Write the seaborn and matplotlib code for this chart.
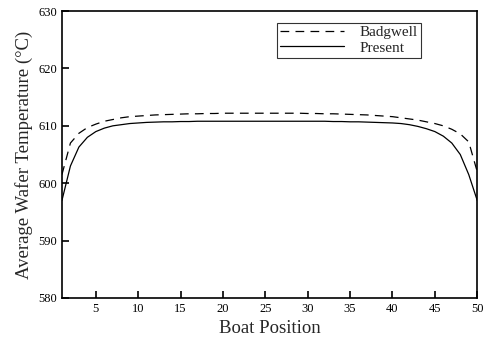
import numpy as np
import pandas as pd
import matplotlib
matplotlib.use("Agg")
import matplotlib.pyplot as plt
import seaborn as sns
from matplotlib.lines import Line2D

positions = list(range(1, 51))
badgwell = [601.5, 607.0, 608.7, 609.7, 610.3, 610.8, 611.1, 611.4, 611.6, 611.7,
            611.8, 611.9, 611.95, 612.0, 612.05, 612.1, 612.1, 612.15, 612.15, 612.2,
            612.2, 612.2, 612.2, 612.2, 612.2, 612.2, 612.2, 612.2, 612.2, 612.15,
            612.15, 612.1, 612.1, 612.05, 612.0, 611.95, 611.9, 611.8, 611.7, 611.6,
            611.4, 611.2, 611.0, 610.7, 610.4, 610.0, 609.4, 608.6, 607.2, 602.0]
present = [597.0, 603.0, 606.3, 608.0, 609.0, 609.6, 610.0, 610.2, 610.4, 610.5,
           610.6, 610.65, 610.7, 610.7, 610.75, 610.75, 610.8, 610.8, 610.8, 610.8,
           610.8, 610.8, 610.8, 610.8, 610.8, 610.8, 610.8, 610.8, 610.8, 610.8,
           610.8, 610.8, 610.75, 610.75, 610.7, 610.7, 610.65, 610.6, 610.55, 610.5,
           610.4, 610.2, 609.9, 609.5, 609.0, 608.2, 607.0, 605.0, 601.5, 597.0]
series_names = ["Badgwell", "Present"]
xticks = [5, 10, 15, 20, 25, 30, 35, 40, 45, 50]
yticks = [580, 590, 600, 610, 620, 630]

df = pd.DataFrame({
    "Boat Position": positions * 2,
    "Temp": badgwell + present,
    "Series": [series_names[0]] * len(positions) + [series_names[1]] * len(positions),
})

sns.set_style("ticks")
plt.rcParams['font.family'] = ['Liberation Serif', 'DejaVu Serif']

fig = plt.figure(figsize=(4.84, 3.37), dpi=100)
ax = fig.add_axes([0.128, 0.116, 0.858, 0.851])

sns.lineplot(data=df, x="Boat Position", y="Temp", hue="Series", style="Series",
             palette=["black", "black"], dashes={"Badgwell": (7, 5), "Present": ""},
             linewidth=0.9, ax=ax, legend=False)

ax.set_xlim(1, 50)
ax.set_ylim(580, 630)
ax.set_xticks(xticks)
ax.set_yticks(yticks)
ax.tick_params(direction="in", length=5, width=1.2, labelsize=9, colors="black")
for s in ax.spines.values():
    s.set_linewidth(1.2)
    s.set_color("black")
ax.set_xlabel("Boat Position", fontsize=13.5)
ax.set_ylabel("Average Wafer Temperature (\u00b0C)", fontsize=13.5)

handles = [Line2D([], [], color="black", lw=0.9, dashes=(7, 5)),
           Line2D([], [], color="black", lw=0.9)]
leg = ax.legend(handles, series_names, loc="upper left", bbox_to_anchor=(0.518, 0.96),
                fontsize=11, handlelength=4.2, frameon=True, fancybox=False,
                borderpad=0.2, labelspacing=0.1, handletextpad=1.0, borderaxespad=0)
leg.get_frame().set_edgecolor("black")
leg.get_frame().set_linewidth(0.8)

fig.savefig("out.png", dpi=100)
